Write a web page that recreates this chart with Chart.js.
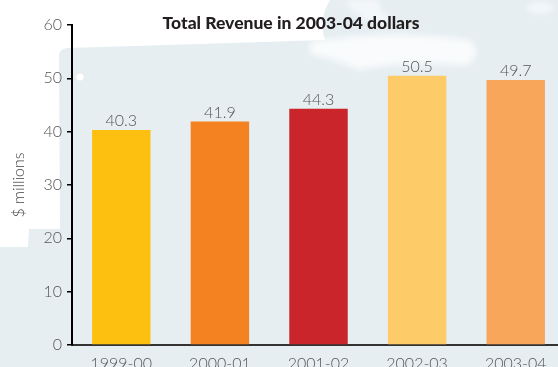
<!DOCTYPE html>
<html>
<head>
<meta charset="utf-8">
<script src="https://cdn.jsdelivr.net/npm/chart.js@4/dist/chart.umd.min.js"></script>
<style>
html,body{margin:0;padding:0;overflow:hidden;background:#fff;width:558px;height:367px;}
canvas{display:block;}
</style>
</head>
<body>
<canvas id="c" width="567" height="367"></canvas>
<script>
const categories = ["1999-00", "2000-01", "2001-02", "2002-03", "2003-04"];
const revenue = [40.3, 41.9, 44.3, 50.5, 49.7];
const barColors = ["#FDC010", "#F58220", "#C9252B", "#FDCB67", "#F8A65A"];
const yTicks = [0, 10, 20, 30, 40, 50, 60];
const titleText = "Total Revenue in 2003-04 dollars";
const yTitle = "$ millions";

const bgPlugin = {
  id: 'bg',
  beforeDraw(chart) {
    const ctx = chart.ctx;
    const W = chart.width, H = chart.height;
    ctx.save();
    ctx.fillStyle = '#ffffff';
    ctx.fillRect(0, 0, W, H);
    ctx.fillStyle = '#E6EEF2';
    ctx.beginPath();
    ctx.moveTo(0, 247);
    ctx.lineTo(28, 247);
    ctx.lineTo(29, 229);
    ctx.lineTo(60, 229);
    ctx.lineTo(59, 56);
    ctx.quadraticCurveTo(59, 49, 67, 48);
    ctx.lineTo(200, 44);
    ctx.lineTo(325, 40);
    ctx.quadraticCurveTo(318, 20, 330, 0);
    ctx.lineTo(W, 0);
    ctx.lineTo(W, H);
    ctx.lineTo(0, H);
    ctx.closePath();
    ctx.fill();
    ctx.filter = 'blur(3px)';
    ctx.fillStyle = 'rgba(255,255,255,0.75)';
    ctx.beginPath();
    ctx.moveTo(310, 42);
    ctx.quadraticCurveTo(390, 28, 470, 40);
    ctx.quadraticCurveTo(485, 55, 465, 66);
    ctx.quadraticCurveTo(410, 60, 360, 70);
    ctx.quadraticCurveTo(330, 58, 310, 54);
    ctx.closePath();
    ctx.fill();
    ctx.fillStyle = 'rgba(255,255,255,0.55)';
    ctx.beginPath();
    ctx.moveTo(345, 0);
    ctx.quadraticCurveTo(350, 15, 380, 24);
    ctx.lineTo(395, 20);
    ctx.quadraticCurveTo(375, 10, 380, 0);
    ctx.closePath();
    ctx.fill();
    ctx.beginPath();
    ctx.ellipse(540, 8, 14, 6, 0, 0, Math.PI * 2);
    ctx.fill();
    ctx.filter = 'none';
    ctx.fillStyle = '#ffffff';
    ctx.beginPath();
    ctx.arc(80, 77, 3.5, 0, Math.PI * 2);
    ctx.fill();
    ctx.restore();
  }
};

const overlayPlugin = {
  id: 'overlay',
  afterDatasetsDraw(chart) {
    const ctx = chart.ctx;
    ctx.save();
    ctx.fillStyle = '#555555';
    ctx.font = '300 16px Lato';
    ctx.textAlign = 'center';
    ctx.textBaseline = 'bottom';
    const meta = chart.getDatasetMeta(0);
    meta.data.forEach((bar, i) => {
      ctx.fillText(revenue[i].toFixed(1), bar.x, bar.y - 1);
    });
    ctx.fillStyle = '#231F20';
    ctx.font = '900 17.5px Lato';
    ctx.textBaseline = 'middle';
    ctx.fillText(titleText, 291, 23);
    ctx.restore();
  }
};

new Chart(document.getElementById('c'), {
  type: 'bar',
  data: {
    labels: categories,
    datasets: [{
      data: revenue,
      backgroundColor: barColors,
      borderWidth: 0,
      categoryPercentage: 1.0,
      barPercentage: 0.593
    }]
  },
  options: {
    responsive: false,
    animation: false,
    layout: { padding: { top: 25, right: 2, left: 0, bottom: 0 } },
    plugins: { legend: { display: false }, tooltip: { enabled: false }, title: { display: false } },
    scales: {
      x: {
        grid: { display: false, drawTicks: false },
        border: { display: true, color: '#333333', width: 2 },
        ticks: { color: '#555555', font: { family: 'Lato', size: 16, weight: '300' }, padding: 9, maxRotation: 0 },
        afterFit(scale) { scale.height = 22; }
      },
      y: {
        min: 0, max: 60,
        afterBuildTicks(scale) { scale.ticks = yTicks.map(v => ({ value: v })); },
        grid: { drawOnChartArea: false, drawTicks: true, tickLength: 5, color: '#000000', lineWidth: 1.5 },
        border: { display: true, color: '#000000', width: 2 },
        ticks: { color: '#555555', font: { family: 'Lato', size: 16, weight: '300' }, padding: 5 },
        title: { display: true, text: yTitle, color: '#444444', font: { family: 'Lato', size: 16, weight: '300' }, padding: { top: 9, bottom: 0 } },
        afterFit(scale) { scale.width = 72; }
      }
    }
  },
  plugins: [bgPlugin, overlayPlugin]
});
</script>
</body>
</html>
